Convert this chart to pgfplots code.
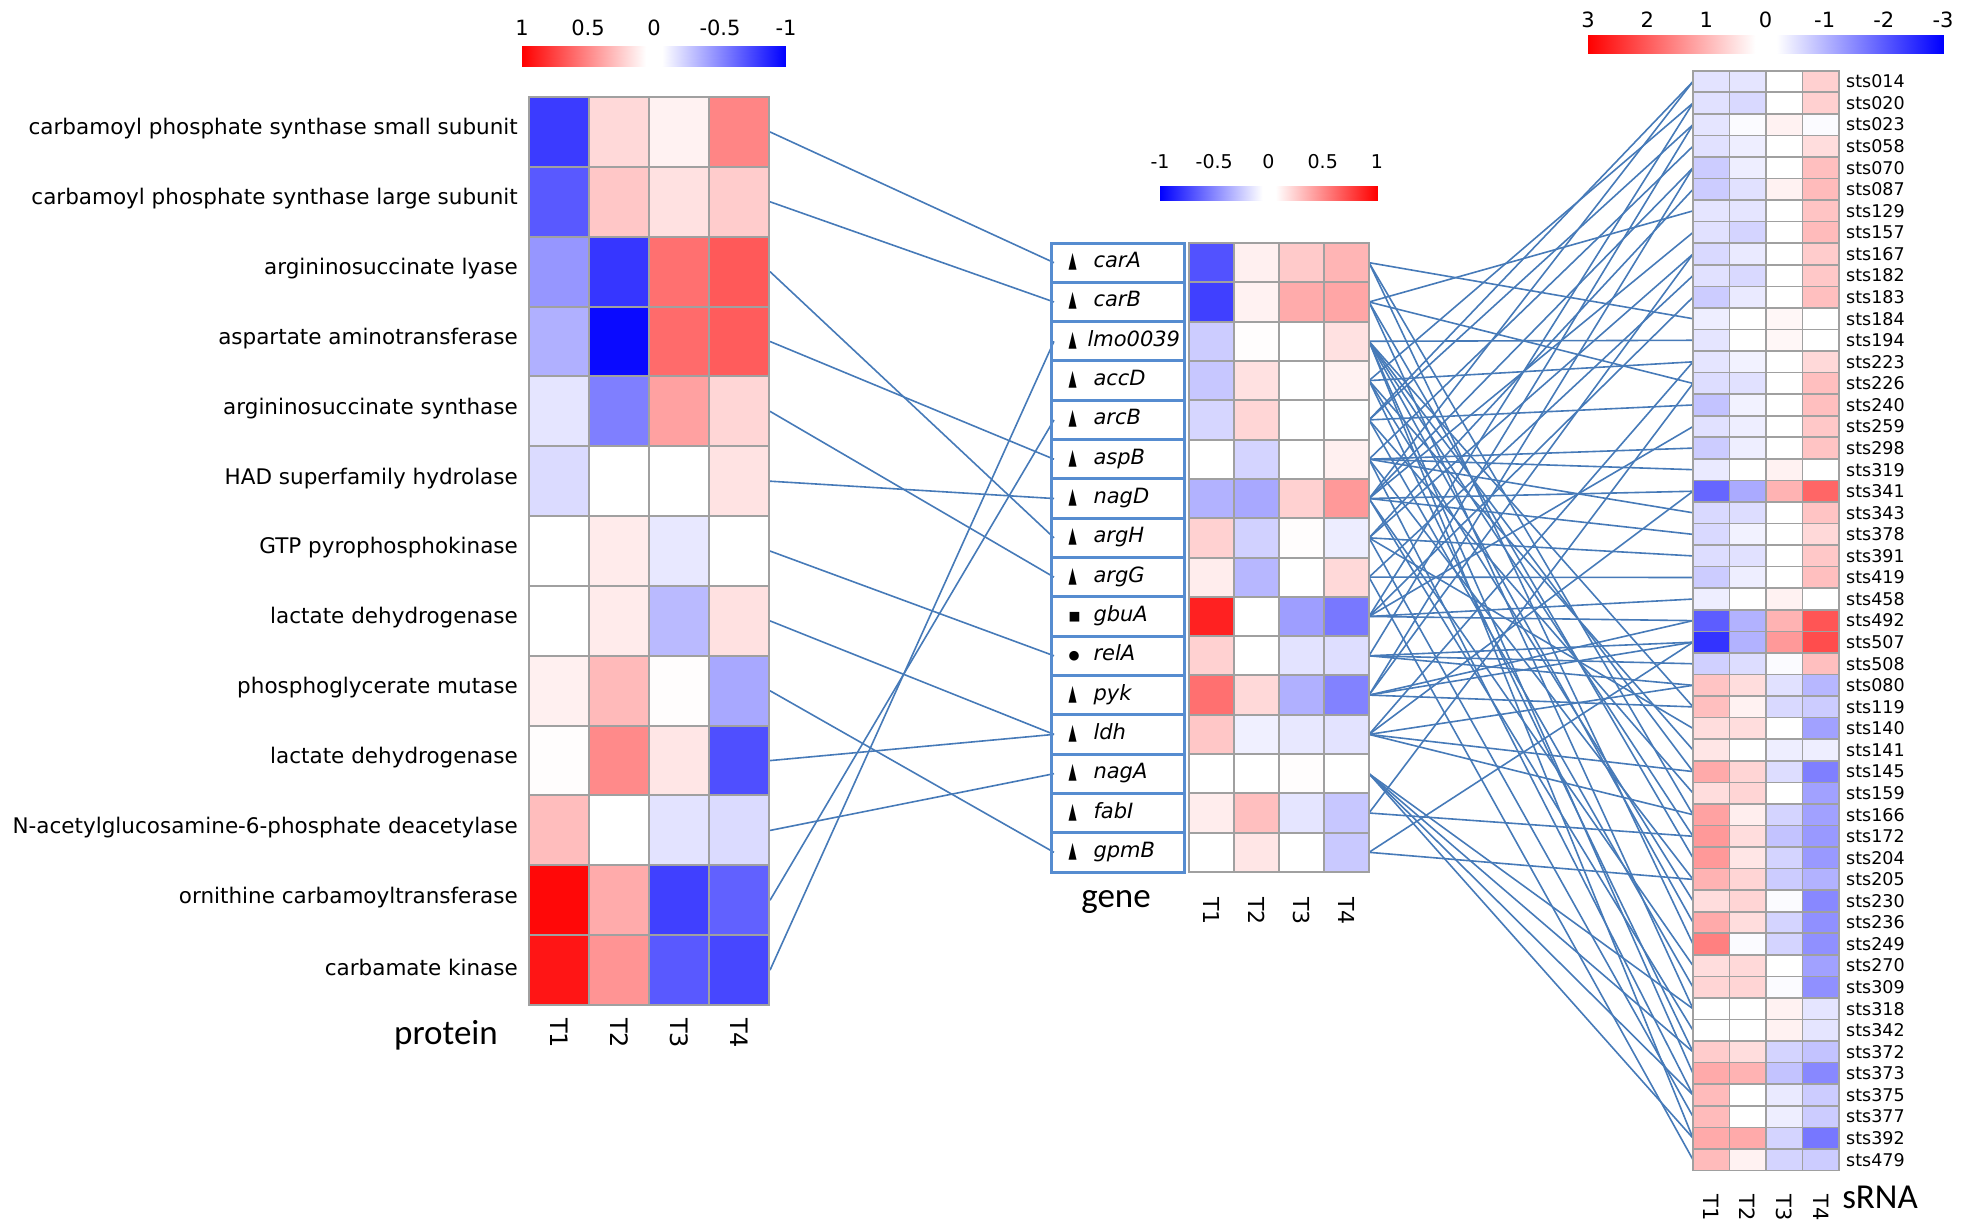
\documentclass[border=0pt]{standalone}
\usepackage{fontspec}
\setmainfont{DejaVu Sans}
\newfontfamily\calib{Carlito}
\usepackage{graphicx}
\usepackage{pgfplots}
\pgfplotsset{compat=1.18}
\definecolor{linec}{RGB}{70,122,184}
\definecolor{boxc}{RGB}{86,140,208}
\definecolor{cellb}{RGB}{160,160,160}
\pgfplotsset{colormap={bwr}{rgb255=(0,0,255) rgb255=(255,255,255) rgb255=(255,0,0)},
 colormap={bwrgap}{rgb255(0cm)=(0,0,255) rgb255(47cm)=(255,255,255) rgb255(53cm)=(255,255,255) rgb255(100cm)=(255,0,0)}}
\newcommand\fs[1]{\fontsize{#1}{#1}\selectfont}
\newcommand\tri{\raisebox{0pt}{\scalebox{0.5}[1.05]{▲}}}
\newcommand\sq{\raisebox{1pt}{\scalebox{0.6}{■}}}
\newcommand\ci{\raisebox{1pt}{\scalebox{0.6}{●}}}
\pgfplotsset{
 conn/.style={linec, line width=1.6pt, no markers},
 hm/.style={scale only axis, anchor=north west, y dir=reverse, colormap name=bwr,
  enlargelimits=false, xmin=0.5, xmax=4.5, xtick={1,2,3,4}, xticklabels={T1,T2,T3,T4},
  minor xtick={1.5,2.5,3.5}, major tick length=0pt, minor tick length=0pt,
  xminorgrids=true, yminorgrids=true, minor grid style={cellb, line width=2pt},
  axis line style={cellb, line width=2pt}, axis on top},
 cb/.style={scale only axis, anchor=north west, colormap name=bwrgap, enlargelimits=false,
  ymin=0, ymax=1, ytick=\empty, ztick=\empty, view={0}{90}, axis line style={draw=none},
  major tick length=0pt, xticklabel pos=upper}
}
\newcommand\pg[2]{\pgfmathsetmacro\ya{97+69.85*(#1-0.5)}\pgfmathsetmacro\yb{243+39.31*(#2-0.5)}%
 \edef\tmp{\noexpand\addplot[conn] coordinates {(770,\ya) (1054,\yb)};}\tmp}
\newcommand\gs[2]{\pgfmathsetmacro\ya{243+39.31*(#1-0.5)}\pgfmathsetmacro\yb{70.7+21.565*(#2-0.5)}%
 \edef\tmp{\noexpand\addplot[conn] coordinates {(1369,\ya) (1693,\yb)};}\tmp}
\begin{document}
\begin{tikzpicture}
\path[use as bounding box] (0,0) rectangle (1961pt,-1230pt);
% overlay axis: connecting lines and titles
\begin{axis}[at={(0pt,0pt)}, anchor=north west, width=1961pt, height=1230pt, scale only axis,
 xmin=0, xmax=1961, ymin=0, ymax=1230, y dir=reverse, hide axis, clip=false]
\pg{1}{1}\pg{2}{2}\pg{3}{8}\pg{4}{6}\pg{5}{9}\pg{6}{7}\pg{7}{11}\pg{8}{13}
\pg{9}{16}\pg{10}{13}\pg{11}{14}\pg{12}{5}\pg{13}{3}
\gs{1}{12}\gs{1}{35}\gs{1}{41}
\gs{2}{7}\gs{2}{15}\gs{2}{37}\gs{2}{44}
\gs{3}{13}\gs{3}{30}\gs{3}{33}\gs{3}{36}\gs{3}{40}\gs{3}{47}\gs{3}{50}
\gs{4}{2}\gs{4}{14}\gs{4}{32}\gs{4}{39}\gs{4}{46}
\gs{5}{1}\gs{5}{3}\gs{5}{16}\gs{5}{34}\gs{5}{43}
\gs{6}{4}\gs{6}{18}\gs{6}{19}\gs{6}{21}\gs{6}{38}\gs{6}{48}
\gs{7}{1}\gs{7}{5}\gs{7}{8}\gs{7}{20}\gs{7}{22}\gs{7}{42}\gs{7}{45}
\gs{8}{6}\gs{8}{9}\gs{8}{23}\gs{8}{31}\gs{8}{49}
\gs{9}{10}\gs{9}{24}\gs{9}{51}
\gs{10}{2}\gs{10}{11}\gs{10}{17}\gs{10}{25}\gs{10}{26}
\gs{11}{3}\gs{11}{27}\gs{11}{28}\gs{11}{29}
\gs{12}{5}\gs{12}{9}\gs{12}{26}\gs{12}{27}\gs{12}{30}
\gs{13}{14}\gs{13}{20}\gs{13}{29}\gs{13}{33}\gs{13}{35}
\gs{14}{44}\gs{14}{46}\gs{14}{48}\gs{14}{50}
\gs{15}{15}\gs{15}{36}
\gs{16}{27}\gs{16}{38}
\node[font=\calib\fs{35}] at (axis cs:446,1035) {protein};
\node[font=\calib\fs{35}] at (axis cs:1116,902) {gene};
\node[font=\calib\fs{35}] at (axis cs:1880,1197) {sRNA};
\end{axis}
% protein heatmap
\begin{axis}[hm, at={(529pt,-97pt)}, width=240pt, height=908pt,
 ymin=0.5, ymax=13.5, point meta min=-1, point meta max=1,
 ytick={1,...,13}, minor ytick={1.5,2.5,...,12.5},
 yticklabels={carbamoyl phosphate synthase small subunit, carbamoyl phosphate synthase large subunit,
 argininosuccinate lyase, aspartate aminotransferase, argininosuccinate synthase,
 HAD superfamily hydrolase, GTP pyrophosphokinase, lactate dehydrogenase,
 phosphoglycerate mutase, lactate dehydrogenase, N-acetylglucosamine-6-phosphate deacetylase,
 ornithine carbamoyltransferase, carbamate kinase},
 yticklabel style={font=\fs{21.5}, anchor=east, inner sep=0pt, xshift=-11pt, yshift=3pt},
 xticklabel style={font=\fs{24}, rotate=-90, anchor=west, inner xsep=13pt, inner ysep=0pt}]
\addplot[matrix plot*, mesh/cols=4, point meta=explicit] coordinates {
(1,1)[-0.77] (2,1)[0.15] (3,1)[0.05] (4,1)[0.48]
(1,2)[-0.65] (2,2)[0.22] (3,2)[0.12] (4,2)[0.2]
(1,3)[-0.41] (2,3)[-0.79] (3,3)[0.56] (4,3)[0.65]
(1,4)[-0.31] (2,4)[-0.96] (3,4)[0.58] (4,4)[0.64]
(1,5)[-0.1] (2,5)[-0.5] (3,5)[0.37] (4,5)[0.16]
(1,6)[-0.14] (2,6)[0] (3,6)[0] (4,6)[0.11]
(1,7)[0] (2,7)[0.08] (3,7)[-0.09] (4,7)[0]
(1,8)[0] (2,8)[0.08] (3,8)[-0.27] (4,8)[0.12]
(1,9)[0.06] (2,9)[0.27] (3,9)[0.01] (4,9)[-0.34]
(1,10)[0.01] (2,10)[0.46] (3,10)[0.1] (4,10)[-0.69]
(1,11)[0.26] (2,11)[0] (3,11)[-0.11] (4,11)[-0.14]
(1,12)[0.97] (2,12)[0.33] (3,12)[-0.75] (4,12)[-0.62]
(1,13)[0.92] (2,13)[0.42] (3,13)[-0.65] (4,13)[-0.72]
};
\end{axis}
% gene heatmap
\begin{axis}[hm, at={(1189pt,-243pt)}, width=180pt, height=629pt,
 ymin=0.5, ymax=16.5, point meta min=-1, point meta max=1,
 ytick={1,...,16}, minor ytick={1.5,2.5,...,15.5},
 yticklabels={{\makebox[25pt][l]{\tri}\textit{carA}},{\makebox[25pt][l]{\tri}\textit{carB}},
 {\makebox[19pt][l]{\tri}\textit{lmo0039}},{\makebox[25pt][l]{\tri}\textit{accD}},
 {\makebox[25pt][l]{\tri}\textit{arcB}},{\makebox[25pt][l]{\tri}\textit{aspB}},
 {\makebox[25pt][l]{\tri}\textit{nagD}},{\makebox[25pt][l]{\tri}\textit{argH}},
 {\makebox[25pt][l]{\tri}\textit{argG}},{\makebox[25pt][l]{\sq}\textit{gbuA}},
 {\makebox[25pt][l]{\ci}\textit{relA}},{\makebox[25pt][l]{\tri}\textit{pyk}},
 {\makebox[25pt][l]{\tri}\textit{ldh}},{\makebox[25pt][l]{\tri}\textit{nagA}},
 {\makebox[25pt][l]{\tri}\textit{fabI}},{\makebox[25pt][l]{\tri}\textit{gpmB}}},
 yticklabel style={font=\fs{21}, anchor=east, draw=boxc, line width=3pt, text width=99pt,
  align=left, inner xsep=17pt, inner ysep=0pt, minimum height=39.31pt, text height=15pt,
  text depth=5pt, xshift=-3pt},
 xticklabel style={font=\fs{22}, rotate=-90, anchor=west, inner xsep=25pt, inner ysep=0pt}]
\addplot[matrix plot*, mesh/cols=4, point meta=explicit] coordinates {
(1,1)[-0.68] (2,1)[0.06] (3,1)[0.21] (4,1)[0.29]
(1,2)[-0.75] (2,2)[0.05] (3,2)[0.33] (4,2)[0.35]
(1,3)[-0.2] (2,3)[0.01] (3,3)[0] (4,3)[0.12]
(1,4)[-0.22] (2,4)[0.12] (3,4)[0] (4,4)[0.05]
(1,5)[-0.16] (2,5)[0.16] (3,5)[0] (4,5)[0]
(1,6)[0] (2,6)[-0.17] (3,6)[0] (4,6)[0.06]
(1,7)[-0.3] (2,7)[-0.34] (3,7)[0.18] (4,7)[0.4]
(1,8)[0.18] (2,8)[-0.18] (3,8)[0.01] (4,8)[-0.07]
(1,9)[0.07] (2,9)[-0.28] (3,9)[0] (4,9)[0.15]
(1,10)[0.87] (2,10)[0] (3,10)[-0.38] (4,10)[-0.53]
(1,11)[0.18] (2,11)[0] (3,11)[-0.11] (4,11)[-0.13]
(1,12)[0.56] (2,12)[0.15] (3,12)[-0.31] (4,12)[-0.49]
(1,13)[0.22] (2,13)[-0.06] (3,13)[-0.09] (4,13)[-0.11]
(1,14)[0] (2,14)[0] (3,14)[0.01] (4,14)[0]
(1,15)[0.07] (2,15)[0.25] (3,15)[-0.1] (4,15)[-0.22]
(1,16)[0] (2,16)[0.1] (3,16)[0] (4,16)[-0.21]
};
\end{axis}
% sRNA heatmap
\begin{axis}[hm, at={(1693pt,-70.7pt)}, width=146pt, height=1099.8pt,
 ymin=0.5, ymax=51.5, point meta min=-3, point meta max=3,
 ytick={1,...,51}, minor ytick={1.5,2.5,...,50.5},
 minor grid style={cellb, line width=1.6pt}, axis line style={cellb, line width=1.6pt},
 yticklabel pos=right,
 yticklabels={sts014,sts020,sts023,sts058,sts070,sts087,sts129,sts157,sts167,sts182,
 sts183,sts184,sts194,sts223,sts226,sts240,sts259,sts298,sts319,sts341,sts343,sts378,
 sts391,sts419,sts458,sts492,sts507,sts508,sts080,sts119,sts140,sts141,sts145,sts159,
 sts166,sts172,sts204,sts205,sts230,sts236,sts249,sts270,sts309,sts318,sts342,sts372,
 sts373,sts375,sts377,sts392,sts479},
 yticklabel style={font=\fs{17.5}, anchor=west, inner sep=0pt, xshift=7pt},
 xticklabel style={font=\fs{21}, rotate=-90, anchor=west, inner xsep=24pt, inner ysep=0pt}]
\addplot[matrix plot*, mesh/cols=4, point meta=explicit] coordinates {
(1,1)[-0.33] (2,1)[-0.3] (3,1)[0] (4,1)[0.55]
(1,2)[-0.35] (2,2)[-0.45] (3,2)[0] (4,2)[0.55]
(1,3)[-0.3] (2,3)[-0.05] (3,3)[0.15] (4,3)[-0.05]
(1,4)[-0.35] (2,4)[-0.2] (3,4)[0] (4,4)[0.4]
(1,5)[-0.6] (2,5)[-0.2] (3,5)[0] (4,5)[0.75]
(1,6)[-0.6] (2,6)[-0.35] (3,6)[0.15] (4,6)[0.8]
(1,7)[-0.3] (2,7)[-0.3] (3,7)[0] (4,7)[0.7]
(1,8)[-0.35] (2,8)[-0.5] (3,8)[0] (4,8)[0.8]
(1,9)[-0.45] (2,9)[-0.25] (3,9)[0] (4,9)[0.6]
(1,10)[-0.35] (2,10)[-0.45] (3,10)[0] (4,10)[0.65]
(1,11)[-0.6] (2,11)[-0.25] (3,11)[0] (4,11)[0.75]
(1,12)[-0.2] (2,12)[0] (3,12)[0.1] (4,12)[0]
(1,13)[-0.3] (2,13)[0] (3,13)[0.1] (4,13)[0]
(1,14)[-0.3] (2,14)[-0.15] (3,14)[0] (4,14)[0.45]
(1,15)[-0.4] (2,15)[-0.35] (3,15)[0] (4,15)[0.75]
(1,16)[-0.7] (2,16)[-0.15] (3,16)[0] (4,16)[0.75]
(1,17)[-0.35] (2,17)[-0.2] (3,17)[0] (4,17)[0.65]
(1,18)[-0.6] (2,18)[-0.2] (3,18)[0] (4,18)[0.7]
(1,19)[-0.25] (2,19)[0] (3,19)[0.15] (4,19)[0]
(1,20)[-1.8] (2,20)[-1.0] (3,20)[0.9] (4,20)[1.8]
(1,21)[-0.45] (2,21)[-0.4] (3,21)[0] (4,21)[0.7]
(1,22)[-0.45] (2,22)[-0.15] (3,22)[0] (4,22)[0.45]
(1,23)[-0.4] (2,23)[-0.35] (3,23)[0] (4,23)[0.65]
(1,24)[-0.6] (2,24)[-0.2] (3,24)[0] (4,24)[0.75]
(1,25)[-0.2] (2,25)[0] (3,25)[0.15] (4,25)[0]
(1,26)[-1.9] (2,26)[-0.9] (3,26)[0.9] (4,26)[2.0]
(1,27)[-2.4] (2,27)[-0.9] (3,27)[1.2] (4,27)[2.1]
(1,28)[-0.55] (2,28)[-0.4] (3,28)[-0.05] (4,28)[0.75]
(1,29)[0.7] (2,29)[0.4] (3,29)[-0.35] (4,29)[-0.85]
(1,30)[0.75] (2,30)[0.15] (3,30)[-0.45] (4,30)[-0.6]
(1,31)[0.4] (2,31)[0.4] (3,31)[0] (4,31)[-1.1]
(1,32)[0.3] (2,32)[0] (3,32)[-0.2] (4,32)[-0.2]
(1,33)[1.0] (2,33)[0.5] (3,33)[-0.4] (4,33)[-1.5]
(1,34)[0.4] (2,34)[0.5] (3,34)[0] (4,34)[-1.1]
(1,35)[1.1] (2,35)[0.2] (3,35)[-0.5] (4,35)[-1.1]
(1,36)[1.2] (2,36)[0.4] (3,36)[-0.7] (4,36)[-1.2]
(1,37)[1.2] (2,37)[0.3] (3,37)[-0.5] (4,37)[-1.2]
(1,38)[0.9] (2,38)[0.5] (3,38)[-0.6] (4,38)[-0.9]
(1,39)[0.4] (2,39)[0.5] (3,39)[-0.05] (4,39)[-1.4]
(1,40)[1.0] (2,40)[0.4] (3,40)[-0.5] (4,40)[-1.3]
(1,41)[1.5] (2,41)[-0.05] (3,41)[-0.5] (4,41)[-1.3]
(1,42)[0.4] (2,42)[0.45] (3,42)[0] (4,42)[-1.1]
(1,43)[0.5] (2,43)[0.5] (3,43)[-0.05] (4,43)[-1.3]
(1,44)[0] (2,44)[0] (3,44)[0.15] (4,44)[-0.3]
(1,45)[0] (2,45)[0] (3,45)[0.15] (4,45)[-0.3]
(1,46)[0.6] (2,46)[0.4] (3,46)[-0.5] (4,46)[-0.7]
(1,47)[1.0] (2,47)[0.9] (3,47)[-0.7] (4,47)[-1.4]
(1,48)[0.8] (2,48)[0] (3,48)[-0.25] (4,48)[-0.6]
(1,49)[0.8] (2,49)[0] (3,49)[-0.2] (4,49)[-0.6]
(1,50)[1.0] (2,50)[1.0] (3,50)[-0.5] (4,50)[-1.6]
(1,51)[0.8] (2,51)[0.15] (3,51)[-0.5] (4,51)[-0.6]
};
\end{axis}
% colour bars
\begin{axis}[cb, at={(522pt,-46pt)}, width=264pt, height=21pt, xmin=-1, xmax=1, x dir=reverse,
 point meta min=-1, point meta max=1, xtick={-1,-0.5,0,0.5,1}, xticklabels={-1,-0.5,0,0.5,1},
 xticklabel style={font=\fs{21}, anchor=south, inner sep=0pt, yshift=10pt}]
\addplot3[surf, shader=interp, mesh/rows=2, point meta=x] coordinates {
(-1,0,0) (0,0,0) (1,0,0) (-1,1,0) (0,1,0) (1,1,0)};
\end{axis}
\begin{axis}[cb, at={(1160pt,-186pt)}, width=217pt, height=15pt, xmin=-1, xmax=1,
 point meta min=-1, point meta max=1, xtick={-1,-0.5,0,0.5,1}, xticklabels={-1,-0.5,0,0.5,1},
 xticklabel style={font=\fs{19}, anchor=south, inner sep=0pt, yshift=17pt}]
\addplot3[surf, shader=interp, mesh/rows=2, point meta=x] coordinates {
(-1,0,0) (0,0,0) (1,0,0) (-1,1,0) (0,1,0) (1,1,0)};
\end{axis}
\begin{axis}[cb, at={(1588pt,-35pt)}, width=355pt, height=19pt, xmin=-3, xmax=3, x dir=reverse,
 point meta min=-3, point meta max=3, xtick={-3,-2,-1,0,1,2,3}, xticklabels={-3,-2,-1,0,1,2,3},
 xticklabel style={font=\fs{21}, anchor=south, inner sep=0pt, yshift=7pt}]
\addplot3[surf, shader=interp, mesh/rows=2, point meta=x] coordinates {
(-3,0,0) (0,0,0) (3,0,0) (-3,1,0) (0,1,0) (3,1,0)};
\end{axis}
\end{tikzpicture}
\end{document}
